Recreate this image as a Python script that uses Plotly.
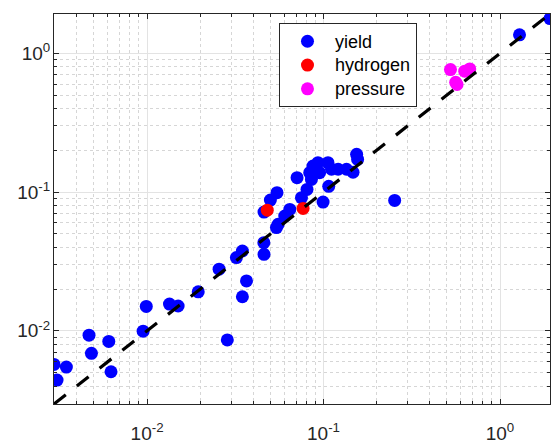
import numpy as np
import plotly.graph_objects as go

# ---- data ----
yield_x = [0.00297, 0.00309, 0.00349, 0.00469, 0.00484, 0.00607, 0.00625, 0.00950, 0.0099,
           0.0134, 0.0150, 0.0195, 0.0256, 0.0285, 0.0321, 0.0347, 0.0366, 0.0347, 0.0459,
           0.0460, 0.0460, 0.0500, 0.0545, 0.0541, 0.0553, 0.0603, 0.0644, 0.0708, 0.0750,
           0.0806, 0.0854, 0.0835, 0.0872, 0.0930, 0.0950, 0.0994, 0.106, 0.111, 0.107,
           0.121, 0.135, 0.147, 0.154, 0.156, 0.253, 1.29, 1.92]
yield_y = [0.00573, 0.00442, 0.00548, 0.00931, 0.00688, 0.00839, 0.00507, 0.00995, 0.0150,
           0.0156, 0.0151, 0.0191, 0.0278, 0.0086, 0.0337, 0.0376, 0.0229, 0.0176, 0.0432,
           0.0356, 0.0718, 0.0876, 0.0990, 0.0555, 0.0586, 0.0672, 0.0750, 0.127, 0.0912,
           0.1045, 0.1234, 0.138, 0.154, 0.163, 0.138, 0.0847, 0.163, 0.146, 0.110,
           0.146, 0.146, 0.139, 0.187, 0.172, 0.0871, 1.36, 1.78]
hydrogen_x = [0.0480, 0.0766]
hydrogen_y = [0.0740, 0.0763]
pressure_x = [0.524, 0.561, 0.571, 0.631, 0.674]
pressure_y = [0.764, 0.618, 0.596, 0.743, 0.772]

axis_min, axis_max = 0.00297, 1.92
line_x = [axis_min, axis_max]
line_y = [axis_min, axis_max]

major_vals = [0.01, 0.1, 1]
major_text = ["10<sup>-2</sup>", "10<sup>-1</sup>", "10<sup>0</sup>"]
minor_vals = [3e-3, 4e-3, 5e-3, 6e-3, 7e-3, 8e-3, 9e-3,
              0.02, 0.03, 0.04, 0.05, 0.06, 0.07, 0.08, 0.09,
              0.2, 0.3, 0.4, 0.5, 0.6, 0.7, 0.8, 0.9]
legend_names = ["yield", "hydrogen", "pressure"]

# ---- figure ----
fig = go.Figure()
msize = 13
def lname(s):
    return "<span style='font-size:18px'>%s</span>" % s

fig.add_trace(go.Scatter(x=yield_x, y=yield_y, mode="markers", name=lname(legend_names[0]),
                         marker=dict(color="#0000FF", size=msize, line=dict(width=0))))
fig.add_trace(go.Scatter(x=hydrogen_x, y=hydrogen_y, mode="markers", name=lname(legend_names[1]),
                         marker=dict(color="#FF0000", size=msize, line=dict(width=0))))
fig.add_trace(go.Scatter(x=pressure_x, y=pressure_y, mode="markers", name=lname(legend_names[2]),
                         marker=dict(color="#FF00FF", size=msize, line=dict(width=0))))
fig.add_trace(go.Scatter(x=line_x, y=line_y, mode="lines", showlegend=False,
                         line=dict(color="black", width=3.2, dash="15px,14px")))

axcol = "#262626"
def axis_style(standoff):
    return dict(
        type="log", automargin=False,
        range=[np.log10(axis_min), np.log10(axis_max)],
        tickmode="array", tickvals=major_vals, ticktext=major_text,
        ticks="inside", ticklen=5, tickcolor=axcol, tickwidth=1,
        showline=True, linecolor=axcol, linewidth=1, mirror="allticks",
        showgrid=True, gridcolor="#e3e3e3", gridwidth=1,
        zeroline=False, ticklabelstandoff=standoff,
        tickfont=dict(family="Liberation Sans, Arial", size=19, color=axcol),
        minor=dict(tickmode="array", tickvals=minor_vals, ticks="inside", ticklen=3,
                   tickcolor=axcol, showgrid=True, gridcolor="#d6d6d6",
                   griddash="dot", gridwidth=1),
    )

fig.update_layout(
    width=555, height=443,
    margin=dict(l=54, r=5, t=14, b=39, autoexpand=False),
    paper_bgcolor="white", plot_bgcolor="white",
    xaxis=axis_style(12), yaxis=axis_style(-1),
    showlegend=True,
    legend=dict(x=0.4536, y=0.976, xanchor="left", yanchor="top",
                bgcolor="white", bordercolor=axcol, borderwidth=1,
                font=dict(family="Liberation Sans, Arial", size=16, color="black"),
                itemwidth=45, tracegroupgap=0),
)

fig.write_html("out.html")
